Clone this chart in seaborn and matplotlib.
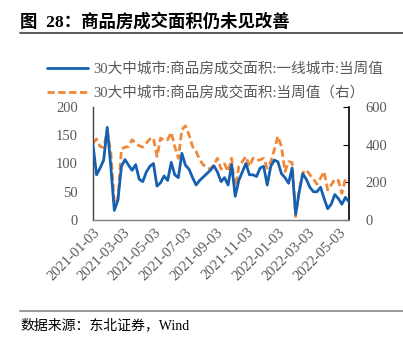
import numpy as np
import pandas as pd
import matplotlib
matplotlib.use("Agg")
import matplotlib.pyplot as plt
import matplotlib.dates as mdates
from matplotlib.lines import Line2D
import seaborn as sns

sns.set_style("white")
plt.rcParams['font.family'] = ['Liberation Serif', 'Noto Sans CJK SC']

# ---- data ----
start_date = "2021-01-03"
n_weeks = 73
tier1_area = [133, 80, 92, 106, 164, 95, 17, 35, 95, 107,
              97, 88, 98, 72, 68, 85, 95, 100, 60, 66,
              78, 70, 102, 80, 75, 118, 97, 90, 75, 62,
              70, 76, 82, 88, 96, 85, 68, 75, 62, 98,
              42, 70, 85, 100, 80, 80, 77, 92, 95, 62,
              95, 106, 103, 82, 75, 65, 92, 10, 50, 82,
              72, 58, 50, 50, 58, 38, 20, 28, 45, 38,
              28, 40, 32]
total_area = [408, 430, 390, 385, 470, 360, 89, 107, 376, 387,
              390, 426, 408, 394, 387, 408, 430, 435, 337, 435,
              422, 426, 465, 390, 328, 480, 500, 453, 390, 364,
              320, 293, 280, 270, 293, 328, 270, 298, 257, 328,
              150, 284, 310, 337, 284, 328, 316, 320, 328, 275,
              310, 373, 444, 390, 257, 310, 305, 18, 160, 250,
              266, 240, 217, 190, 222, 257, 160, 186, 217, 210,
              142, 217, 213]
tick_labels = ["2021-01-03", "2021-03-03", "2021-05-03", "2021-07-03",
               "2021-09-03", "2021-11-03", "2022-01-03", "2022-03-03",
               "2022-05-03"]
left_ticks = [0, 50, 100, 150, 200]
right_ticks = [0, 200, 400, 600]
label1 = "30大中城市:商品房成交面积:一线城市:当周值"
label2 = "30大中城市:商品房成交面积:当周值（右）"
title = "图  28：商品房成交面积仍未见改善"
source = "数据来源：东北证券，Wind"

dates = pd.date_range(start_date, periods=n_weeks, freq="7D")
df = pd.DataFrame({"date": dates, "tier1": tier1_area, "total": total_area})

BLUE = "#1560B0"
ORANGE = "#F0883A"
GRAY = "#595959"
DASH = (0, (2.6, 1.3))

W, H = 403, 342
fig = plt.figure(figsize=(W / 100, H / 100), dpi=100)
ax = fig.add_axes([93 / W, 1 - 220 / H, 256 / W, 113 / H])
ax2 = ax.twinx()

sns.lineplot(data=df, x="date", y="tier1", ax=ax, color=BLUE, linewidth=2.0, zorder=3)
sns.lineplot(data=df, x="date", y="total", ax=ax2, color=ORANGE, linewidth=2.0,
             linestyle=DASH)
ax.set_zorder(ax2.get_zorder() + 1)
ax.patch.set_visible(False)

ax.set_xlim(dates[0], dates[-1])
ax.set_ylim(0, 200)
ax2.set_ylim(0, 600)
ax.set_yticks(left_ticks)
ax2.set_yticks(right_ticks)
ax.set_xticks(pd.to_datetime(tick_labels))
ax.set_xticklabels(tick_labels, rotation=45, ha="right", rotation_mode="anchor")
ax.set_xlabel("")
ax.set_ylabel("")
ax2.set_ylabel("")

for a in (ax, ax2):
    a.spines["top"].set_visible(False)
    a.grid(False)
ax.spines["left"].set_color("#404040")
ax.spines["left"].set_linewidth(1.0)
ax.spines["bottom"].set_color("#808080")
ax.spines["bottom"].set_linewidth(1.0)
ax2.spines["right"].set_color("#000000")
ax2.spines["right"].set_linewidth(1.2)
ax2.spines["left"].set_visible(False)
ax2.spines["bottom"].set_visible(False)
ax.spines["right"].set_visible(False)

ax.tick_params(axis="y", length=0, labelsize=10.5, labelcolor=GRAY, pad=11)
ax.tick_params(axis="x", direction="in", length=4, color="#808080",
               labelsize=10.5, labelcolor=GRAY, pad=4)
ax2.tick_params(axis="y", direction="in", length=4, color="#000000",
                labelsize=10.5, labelcolor=GRAY, pad=12)

# legend
h1 = Line2D([], [], color=BLUE, linewidth=2.0)
h2 = Line2D([], [], color=ORANGE, linewidth=2.0, linestyle=DASH)
leg = fig.legend([h1, h2], [label1, label2], loc="upper left",
                 bbox_to_anchor=(47 / W, 1 - 62 / H), frameon=False,
                 fontsize=10.5, handlelength=2.8, handletextpad=0.35,
                 labelspacing=0.68, borderpad=0, borderaxespad=0)
for t in leg.get_texts():
    t.set_color(GRAY)

# title and decorations
fig.text(20 / W, 1 - 22 / H, title, fontsize=12.5, fontweight="bold",
         color="#000000", va="center", ha="left",
         family=["Liberation Serif", "Noto Sans CJK SC"])
fig.add_artist(Line2D([20 / W, 1.0], [1 - 33 / H] * 2, color="#404040", linewidth=1.2))
fig.add_artist(Line2D([20 / W, 1.0], [1 - 311 / H] * 2, color="#999999", linewidth=1.4))
fig.text(20 / W, 1 - 325 / H, source, fontsize=10, color="#000000",
         va="center", ha="left", family=["Liberation Serif", "Noto Sans CJK SC"])

fig.savefig("out.png", dpi=100, facecolor="white")
